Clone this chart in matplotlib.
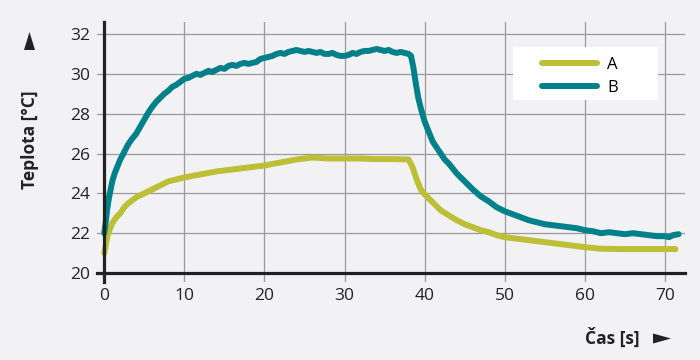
import matplotlib
matplotlib.use("Agg")
import matplotlib.pyplot as plt
from matplotlib.patches import Polygon, Rectangle

plt.rcParams['font.family'] = ['Open Sans', 'DejaVu Sans']

# temperature curves
t_b = [0.0, 0.2, 0.4, 0.6, 0.8, 1.0, 1.3, 1.6, 2.0, 2.4, 2.9, 3.4, 4.0, 4.5,
       5.0, 5.5, 6.0, 6.5, 7.0, 7.5, 8.0, 8.5, 9.0, 9.5, 10.0, 10.5, 11.0,
       11.5, 12.0, 12.5, 13.0, 13.5, 14.0, 14.5, 15.0, 15.5, 16.0, 16.5,
       17.0, 17.5, 18.0, 18.5, 19.0, 19.5, 20.0, 20.5, 21.0, 21.5, 22.0,
       22.5, 23.0, 23.5, 24.0, 24.5, 25.0, 25.5, 26.0, 26.5, 27.0, 27.5,
       28.0, 28.5, 29.0, 29.5, 30.0, 30.5, 31.0, 31.5, 32.0, 32.5, 33.0,
       33.5, 34.0, 34.5, 35.0, 35.5, 36.0, 36.5, 37.0, 37.5, 38.0, 38.3,
       38.6, 38.9, 39.2, 39.5, 40.0, 40.5, 41.0, 41.5, 42.0, 42.5, 43.0,
       44.0, 45.0, 46.0, 47.0, 48.0, 49.0, 50.0, 51.0, 52.0, 53.0, 54.0,
       55.0, 56.0, 57.0, 58.0, 59.0, 60.0, 61.0, 62.0, 63.0, 64.0, 65.0,
       66.0, 67.0, 68.0, 69.0, 70.0, 70.5, 71.0, 71.7]
temp_b = [22.0, 22.6, 23.3, 23.8, 24.2, 24.6, 25.0, 25.3, 25.7, 26.0, 26.4,
          26.7, 27.0, 27.35, 27.7, 28.05, 28.35, 28.6, 28.8, 29.0, 29.15, 29.35,
          29.45, 29.6, 29.75, 29.8, 29.9, 30.0, 29.95, 30.05, 30.15, 30.1,
          30.2, 30.3, 30.25, 30.4, 30.45, 30.4, 30.5, 30.55, 30.5, 30.55,
          30.6, 30.75, 30.8, 30.85, 30.9, 31.0, 31.05, 31.0, 31.1, 31.15,
          31.2, 31.15, 31.1, 31.15, 31.1, 31.05, 31.1, 31.0, 31.0, 31.05,
          30.95, 30.9, 30.9, 30.95, 31.05, 31.0, 31.1, 31.15, 31.15, 31.2,
          31.25, 31.2, 31.15, 31.2, 31.1, 31.05, 31.1, 31.05, 31.0, 30.9,
          30.3, 29.5, 28.8, 28.3, 27.6, 27.1, 26.6, 26.3, 26.0, 25.7, 25.5,
          25.0, 24.6, 24.2, 23.85, 23.6, 23.3, 23.1, 22.95, 22.8, 22.65,
          22.55, 22.45, 22.4, 22.35, 22.3, 22.25, 22.15, 22.1, 22.0, 22.05,
          22.0, 21.95, 22.0, 21.95, 21.9, 21.85, 21.85, 21.8, 21.9, 21.95]

t_a = [0.0, 0.2, 0.4, 0.7, 1.0, 1.5, 2.0, 2.5, 3.0, 4.0, 5.0, 6.0, 7.0, 8.0,
       9.0, 10.0, 12.0, 14.0, 16.0, 18.0, 20.0, 22.0, 24.0, 26.0, 28.0,
       30.0, 32.0, 34.0, 36.0, 38.0, 38.5, 39.0, 39.5, 40.0, 41.0, 42.0,
       43.0, 44.0, 45.0, 46.0, 47.0, 48.0, 49.0, 50.0, 52.0, 54.0, 56.0,
       58.0, 60.0, 62.0, 65.0, 68.0, 71.3]
temp_a = [21.0, 21.4, 21.9, 22.2, 22.5, 22.8, 23.0, 23.3, 23.5, 23.8, 24.0,
          24.2, 24.4, 24.6, 24.7, 24.8, 24.95, 25.1, 25.2, 25.3, 25.4, 25.55,
          25.7, 25.8, 25.75, 25.75, 25.75, 25.72, 25.72, 25.7, 25.3, 24.7,
          24.2, 23.95, 23.55, 23.15, 22.9, 22.65, 22.45, 22.3, 22.15, 22.05,
          21.9, 21.8, 21.7, 21.6, 21.5, 21.4, 21.3, 21.22, 21.2, 21.2, 21.2]

x_ticks = [0, 10, 20, 30, 40, 50, 60, 70]
y_ticks = [20, 22, 24, 26, 28, 30, 32]

bg = '#f2f2f5'
yellow = '#bdbf36'
teal = '#00818a'
ink = '#222222'

fig = plt.figure(figsize=(7, 3.6), dpi=100, facecolor=bg)
ax = fig.add_axes([0.1386, 0.2167, 0.84, 0.722], facecolor=bg)

ax.plot(t_a, temp_a, color=yellow, lw=4.3, label='A', solid_capstyle='round')
ax.plot(t_b, temp_b, color=teal, lw=4.3, label='B', solid_capstyle='round')

ax.set_xlim(-0.9, 72.5)
ax.set_ylim(19.55, 32.6)
ax.set_xticks(x_ticks)
ax.set_yticks(y_ticks)
ax.grid(True, color='#9a9a9a', lw=0.9)
ax.set_axisbelow(True)
ax.tick_params(length=0, labelsize=12.5, colors=ink)
ax.tick_params(axis='x', pad=11)
ax.tick_params(axis='y', pad=10)

for s in ['top', 'right']:
    ax.spines[s].set_visible(False)
ax.spines['left'].set_position(('data', 0))
ax.spines['bottom'].set_position(('data', 20))
for s in ['left', 'bottom']:
    ax.spines[s].set_linewidth(2.3)
    ax.spines[s].set_color(ink)

# white legend box, bigger than its content
ax.add_patch(Rectangle((0.7075, 0.70), 0.2466, 0.2038, transform=ax.transAxes,
                       facecolor='white', edgecolor='none', zorder=4))
leg = ax.legend(loc='upper left', bbox_to_anchor=(0.757, 0.867), frameon=False,
                fontsize=12, handlelength=3.3, handletextpad=0.6,
                borderpad=0, borderaxespad=0, labelspacing=0.45)
leg.set_zorder(5)

fig.text(30 / 700, 1 - 140 / 360, 'Teplota [°C]', rotation=90, fontsize=12.5,
         fontweight='bold', ha='center', va='center', color=ink)
fig.text(612 / 700, 1 - 338 / 360, 'Čas [s]', fontsize=12.5, fontweight='bold',
         ha='center', va='center', color=ink)

# narrow arrow heads next to the axis titles
def px(x, y):
    return (x / 700, 1 - y / 360)

fig.patches.append(Polygon([px(24, 50), px(35, 50), px(29.5, 32)], closed=True,
                           transform=fig.transFigure, facecolor=ink, edgecolor='none'))
fig.patches.append(Polygon([px(653, 333.5), px(653, 343.5), px(671, 338.5)], closed=True,
                           transform=fig.transFigure, facecolor=ink, edgecolor='none'))

fig.savefig('out.png', dpi=100, facecolor=bg)
